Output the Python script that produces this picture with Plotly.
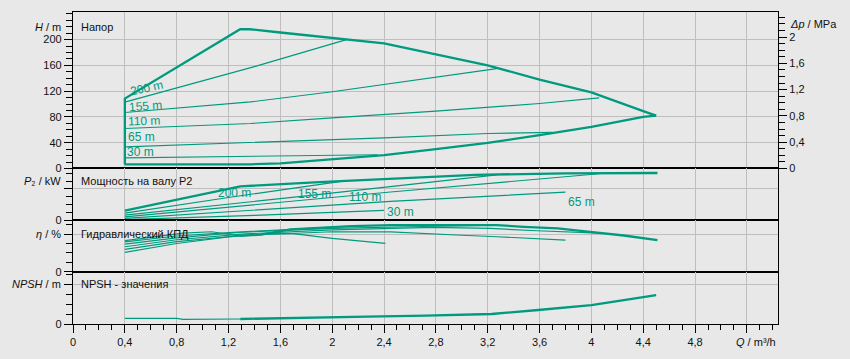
import plotly.graph_objects as go
from plotly.subplots import make_subplots

TEAL = "#009A7E"
BG = "#E8E8E8"
GRID = "#BEBEBE"
FONT = "Liberation Sans, Arial, sans-serif"

# ---------------- Head panel (H / m) ----------------
env_top_q = [0.4, 0.4, 1.29, 1.365, 1.6, 2.0, 2.4, 2.8, 3.2, 3.6, 4.0, 4.4, 4.5]
env_top_h = [6.2, 108.5, 216, 216, 211, 203, 194, 177, 160, 138, 118, 89, 82]
env_low_q = [0.4, 1.0, 1.365, 1.6, 2.0, 2.4, 2.8, 3.2, 3.6, 4.0, 4.4, 4.5]
env_low_h = [6.2, 6.2, 6.4, 8.0, 14.8, 20.8, 30.0, 39.7, 51.6, 64.5, 80.0, 82.0]

h200_q = [0.4, 1.4, 2.11]
h200_h = [103, 158, 200]
h155_q = [0.4, 1.37, 2.0, 2.8, 3.27]
h155_h = [86.8, 103.3, 119, 141, 155]
h110_q = [0.4, 1.37, 2.0, 2.8, 3.6, 4.06]
h110_h = [62, 69.8, 78.4, 89, 100.8, 109.5]
h65_q = [0.4, 1.37, 2.0, 2.4, 3.2, 3.7]
h65_h = [33.5, 40.3, 44, 47.5, 54.3, 56]
h30_q = [0.4, 1.37, 2.0, 2.35]
h30_h = [16.5, 19, 20.6, 21.2]

# ---------------- Power panel (P2 / kW) ----------------
p_max_q = [0.4, 1.29, 1.9, 2.5, 3.1, 3.8, 4.51]
p_max_p = [0.60, 2.16, 2.44, 2.67, 2.9, 3.0, 3.02]
p200_q = [0.4, 1.2, 2.11]
p200_p = [0.45, 1.45, 2.53]
p155_q = [0.4, 1.8, 3.27]
p155_p = [0.32, 1.55, 2.9]
p110_q = [0.4, 2.45, 4.06]
p110_p = [0.21, 1.8, 2.97]
p65_q = [0.4, 2.45, 3.8]
p65_p = [0.11, 1.2, 1.79]
p30_q = [0.4, 1.4, 2.4]
p30_p = [0.03, 0.3, 0.62]

# ---------------- Efficiency panel (eta / %) ----------------
e_max_q = [1.29, 1.45, 1.68, 1.9, 2.15, 2.45, 3.27, 3.48, 3.74, 3.99, 4.25, 4.51]
e_max_e = [38, 39.5, 45, 46.5, 48.5, 49.5, 49.5, 47.7, 46, 42.4, 38.5, 33.6]
e_left_q = [0.4, 0.85, 1.07, 1.29]
e_left_e = [33, 41, 42.5, 38]
e200_q = [0.4, 0.8, 1.2, 1.7, 2.11]
e200_e = [31.8, 38, 41.5, 45, 48.3]
e155_q = [0.4, 0.8, 1.3, 2.0, 2.7, 3.27]
e155_e = [29.4, 36, 42, 46, 48, 49.5]
e110_q = [0.4, 0.8, 1.3, 2.0, 2.78, 3.22, 3.58, 4.06]
e110_e = [26.5, 34, 40, 44.5, 47.1, 46, 43.5, 41]
e65_q = [0.4, 0.8, 1.3, 2.0, 2.45, 2.68, 2.96, 3.27, 3.58, 3.8]
e65_e = [23.8, 32, 38.5, 42.5, 42.4, 40.7, 39, 37.2, 34.7, 33.6]
e30_q = [0.4, 0.8, 1.2, 1.5, 1.68, 2.0, 2.41]
e30_e = [20.6, 30, 37, 40.5, 40.7, 35.4, 30.1]

# ---------------- NPSH panel ----------------
n_left_q = [0.4, 0.8, 0.85, 1.29]
n_left_n = [0.57, 0.57, 0.47, 0.5]
n_main_q = [1.29, 1.71, 2.27, 2.72, 3.23, 3.59, 4.0, 4.5]
n_main_n = [0.5, 0.63, 0.73, 0.83, 1.0, 1.4, 1.9, 2.9]

# curve labels
curve_names = ["200 m", "155 m", "110 m", "65 m", "30 m"]
head_lab_q = [0.57, 0.56, 0.55, 0.53, 0.52]
head_lab_h = [124.5, 96.6, 73.3, 49, 25.7]
head_lab_ang = [-12, -4, -2, 0, 0]
pow_lab_q = [1.25, 1.86, 2.25, 3.92, 2.53]
pow_lab_p = [1.73, 1.67, 1.46, 1.15, 0.545]

# axis ticks
x_ticks = [0, 0.4, 0.8, 1.2, 1.6, 2.0, 2.4, 2.8, 3.2, 3.6, 4.0, 4.4, 4.8, 5.2]
x_text = ["0", "0,4", "0,8", "1,2", "1,6", "2", "2,4", "2,8", "3,2", "3,6", "4", "4,4", "4,8", ""]
h_ticks = [0, 40, 80, 120, 160, 200]
dp_ticks = [0, 0.4, 0.8, 1.2, 1.6, 2.0]
dp_text = ["0", "0,4", "0,8", "1,2", "1,6", "2"]

M_PER_MPA = 101.97
H_MAX = 242.8

fig = make_subplots(rows=4, cols=1, shared_xaxes=True, vertical_spacing=0,
                    row_heights=[156.6, 51.7, 51.7, 52.3],
                    specs=[[{"secondary_y": True}], [{}], [{}], [{}]])

def line(q, v, row, w, sec=False):
    kw = dict(secondary_y=sec) if row == 1 else {}
    fig.add_trace(go.Scatter(x=q, y=v, mode="lines", line=dict(color=TEAL, width=w),
                             showlegend=False, hoverinfo="skip"), row=row, col=1, **kw)

THICK, THIN = 2.3, 1.15
# head
for q, h in [(h200_q, h200_h), (h155_q, h155_h), (h110_q, h110_h), (h65_q, h65_h), (h30_q, h30_h)]:
    line(q, h, 1, THIN)
line(env_top_q, env_top_h, 1, THICK)
line(env_low_q, env_low_h, 1, THICK)
# invisible trace for the Δp axis
fig.add_trace(go.Scatter(x=env_top_q, y=[h / M_PER_MPA for h in env_top_h], mode="lines",
                         opacity=0, showlegend=False, hoverinfo="skip"), row=1, col=1, secondary_y=True)
# power
for q, p in [(p200_q, p200_p), (p155_q, p155_p), (p110_q, p110_p), (p65_q, p65_p), (p30_q, p30_p)]:
    line(q, p, 2, THIN)
line(p_max_q, p_max_p, 2, THICK)
# efficiency
for q, e in [(e200_q, e200_e), (e155_q, e155_e), (e110_q, e110_e), (e65_q, e65_e), (e30_q, e30_e), (e_left_q, e_left_e)]:
    line(q, e, 3, THIN)
line(e_max_q, e_max_e, 3, THICK)
# npsh
line(n_left_q, n_left_n, 4, THIN)
line(n_main_q, n_main_n, 4, THICK)

axis_common = dict(showline=True, linecolor="black", linewidth=1.3, mirror=True,
                   gridcolor=GRID, gridwidth=1, zeroline=False, automargin=False,
                   tickfont=dict(family=FONT, size=11, color="#111"))

X_RANGE = [0, 5.44]
for i in range(1, 5):
    name = "xaxis" if i == 1 else f"xaxis{i}"
    cfg = dict(axis_common, range=X_RANGE, tickvals=x_ticks, ticktext=x_text, showgrid=True, domain=[0, 1])
    if i < 4:
        cfg.update(ticks="", showticklabels=False)
    else:
        cfg.update(ticks="outside", ticklen=8, tickcolor="black", showticklabels=True,
                   minor=dict(dtick=0.1, tick0=0, ticks="outside", ticklen=5, tickcolor="black", showgrid=False))
    fig.layout[name].update(cfg)

def yaxis_cfg(rng, major, text, minor_dt):
    return dict(axis_common, range=rng, tickvals=major, ticktext=text, showgrid=True,
                ticks="outside", ticklen=8, tickcolor="black",
                minor=dict(dtick=minor_dt, tick0=0, ticks="outside", ticklen=6, tickcolor="black", showgrid=False))

fig.layout.yaxis.update(yaxis_cfg([0, H_MAX], h_ticks, [str(v) for v in h_ticks], 10))
fig.layout.yaxis2.update(dict(range=[0, H_MAX / M_PER_MPA], tickvals=dp_ticks, ticktext=dp_text,
                              showgrid=False, zeroline=False, showline=True, linecolor="black", linewidth=1.3,
                              ticks="outside", ticklen=8, tickcolor="black", automargin=False,
                              tickfont=dict(family=FONT, size=11, color="#111"),
                              minor=dict(dtick=0.1, tick0=0, ticks="outside", ticklen=6, tickcolor="black")))
fig.layout.yaxis3.update(yaxis_cfg([0, 3.31], [0, 2], ["0", ""], 0.5))
fig.layout.yaxis4.update(yaxis_cfg([0, 54.85], [0, 40], ["0", ""], 10))
fig.layout.yaxis5.update(yaxis_cfg([0, 5.23], [0, 4], ["0", ""], 1))

ann = []
def txt(text, x, y, xref, yref, **kw):
    d = dict(text=text, x=x, y=y, xref=xref, yref=yref, showarrow=False,
             font=dict(family=FONT, size=11, color="#111"))
    d.update(kw)
    ann.append(d)

# axis titles (left)
txt("<i>H</i> / m", 0, 220, "paper", "y", xanchor="right", xshift=-10)
txt("<i>P</i>₂ / kW", 0, 2.5, "paper", "y3", xanchor="right", xshift=-10)
txt("<i>η</i> / %", 0, 40, "paper", "y4", xanchor="right", xshift=-10)
txt("<i>NPSH</i> / m", 0, 4, "paper", "y5", xanchor="right", xshift=-10)
# right axis title
txt("<i>Δp</i> / MPa", 1, 2.2, "paper", "y2", xanchor="left", xshift=10)
# x axis title
txt("<i>Q</i> / m³/h", 1, -0.058, "paper", "paper", xanchor="right", yanchor="middle")
# panel names
txt("Напор", 0.0085, 220, "paper", "y", xanchor="left")
txt("Мощность на валу P2", 0.0085, 2.5, "paper", "y3", xanchor="left")
txt("Гидравлический КПД", 0.0085, 40, "paper", "y4", xanchor="left")
txt("NPSH - значения", 0.0085, 4, "paper", "y5", xanchor="left")
# curve labels
for name, q, h, a in zip(curve_names, head_lab_q, head_lab_h, head_lab_ang):
    txt(name, q, h, "x", "y", textangle=a, font=dict(family=FONT, size=12, color=TEAL))
for name, q, p in zip(curve_names, pow_lab_q, pow_lab_p):
    txt(name, q, p, "x3", "y3", font=dict(family=FONT, size=12, color=TEAL))

fig.update_layout(width=850, height=359, margin=dict(l=73, r=72, t=12, b=35, autoexpand=False),
                  paper_bgcolor=BG, plot_bgcolor=BG, annotations=ann,
                  font=dict(family=FONT, size=11, color="#111"))

fig.write_html("out.html")
